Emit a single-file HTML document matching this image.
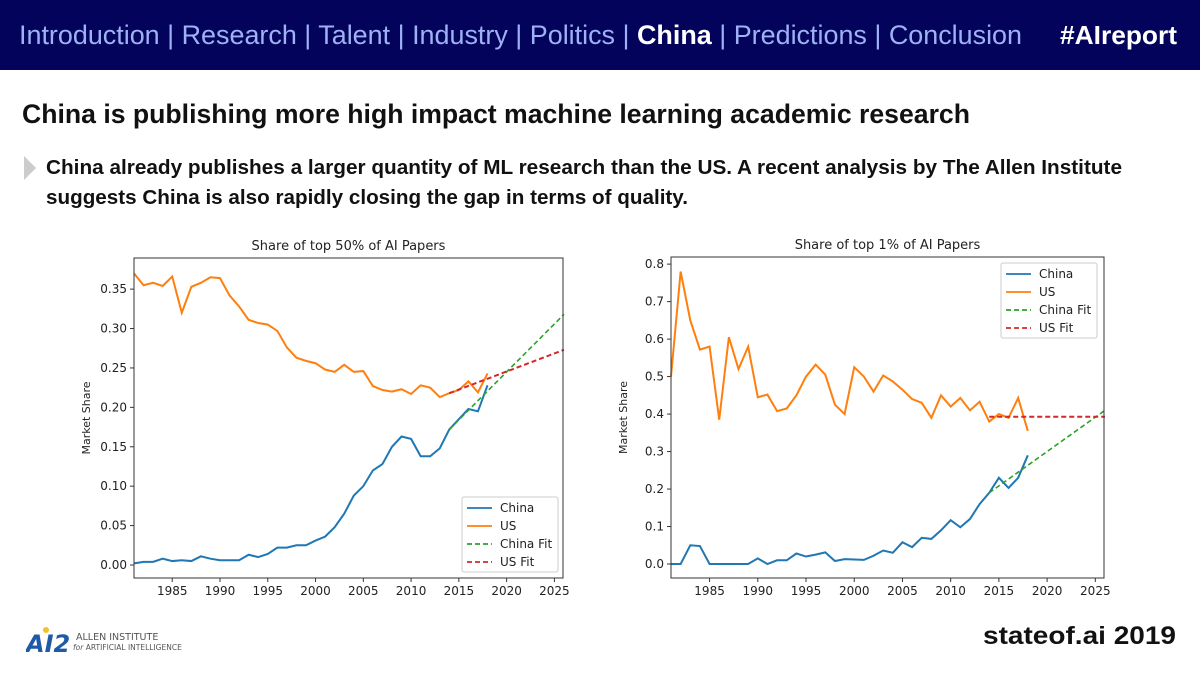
<!DOCTYPE html>
<html><head><meta charset="utf-8"><style>
*{margin:0;padding:0;box-sizing:border-box}
body{width:1200px;height:675px;overflow:hidden;background:#fff;font-family:"Liberation Sans",sans-serif;position:relative}
#hdr{position:absolute;left:0;top:0;width:1200px;height:70px;background:#03035c}
.fit{position:absolute;white-space:nowrap;transform-origin:0 0}
#nav{left:19px;top:20px;font-size:27px;color:#9fb1f5}
#nav b{color:#fff;font-weight:bold}
#tag{left:1060px;top:20px;font-size:26px;color:#fff;font-weight:bold}
#title{left:22px;top:99px;font-size:27px;font-weight:bold;color:#111}
.sub{left:46px;font-size:20px;font-weight:bold;color:#111}
#tri{position:absolute;left:24px;top:156px;width:0;height:0;border-top:12px solid transparent;border-bottom:12px solid transparent;border-left:12px solid #ccc}
#foot{left:983px;top:622px;font-size:25px;font-weight:bold;color:#111}
#logo{position:absolute;left:26px;top:626px;width:180px;height:30px}
svg text{font-family:"DejaVu Sans","Liberation Sans",sans-serif}
</style></head><body>
<div id="hdr">
<div id="nav" class="fit" data-w="1003"><span>Introduction</span> | <span>Research</span> | <span>Talent</span> | <span>Industry</span> | <span>Politics</span> | <b>China</b> | <span>Predictions</span> | <span>Conclusion</span></div>
<div id="tag" class="fit" data-w="117">#AIreport</div>
</div>
<div id="title" class="fit" data-w="948">China is publishing more high impact machine learning academic research</div>
<div id="tri"></div>
<div class="fit sub" style="top:157px" data-w="1076">China already publishes a larger quantity of ML research than the US. A recent analysis by The Allen Institute</div>
<div class="fit sub" style="top:187px" data-w="642">suggests China is also rapidly closing the gap in terms of quality.</div>
<svg id="logo" viewBox="0 0 180 30">
<text x="0" y="26" font-size="24" font-weight="bold" fill="#1f5aa6" font-style="italic">AI2</text>
<circle cx="20" cy="4" r="3" fill="#f2c12e"/>
<text x="50" y="14" font-size="9.5" fill="#555">ALLEN INSTITUTE</text>
<text x="47" y="24" font-size="7.5" fill="#555"><tspan font-style="italic">for</tspan> ARTIFICIAL INTELLIGENCE</text>
</svg>
<div id="foot" class="fit" data-w="193">stateof.ai 2019</div>
<svg id="charts" width="1200" height="675" style="position:absolute;left:0;top:0"></svg>
<script>
document.querySelectorAll('.fit').forEach(el=>{const w=el.getBoundingClientRect().width;const t=+el.getAttribute('data-w');if(w>0)el.style.transform='scaleX('+(t/w)+')';});

const years=[1981,1982,1983,1984,1985,1986,1987,1988,1989,1990,1991,1992,1993,1994,1995,1996,1997,1998,1999,2000,2001,2002,2003,2004,2005,2006,2007,2008,2009,2010,2011,2012,2013,2014,2015,2016,2017,2018];
const xTicks=[1985,1990,1995,2000,2005,2010,2015,2020,2025];
const chinaTop50=[.002,.004,.004,.008,.005,.006,.005,.011,.008,.006,.006,.006,.013,.010,.014,.022,.022,.025,.025,.031,.036,.048,.065,.088,.100,.120,.128,.150,.163,.160,.138,.138,.148,.172,.185,.198,.195,.228];
const usTop50=[.37,.355,.358,.354,.366,.32,.353,.358,.365,.364,.342,.328,.311,.307,.305,.297,.276,.263,.259,.256,.248,.245,.254,.245,.246,.227,.222,.220,.223,.217,.228,.225,.213,.218,.222,.233,.219,.243];
const fitYears=[2014,2026];
const chinaFit50=[.172,.318];
const usFit50=[.218,.273];
const yTicks50=[0,.05,.10,.15,.20,.25,.30,.35];
const yLabels50=["0.00","0.05","0.10","0.15","0.20","0.25","0.30","0.35"];
const chinaTop1=[0,0,.05,.048,0,0,0,0,0,.015,0,.01,.01,.028,.02,.025,.031,.008,.013,.012,.011,.022,.036,.030,.058,.045,.070,.067,.09,.117,.098,.12,.16,.19,.23,.203,.23,.29];
const usTop1=[.5,.78,.65,.572,.58,.385,.605,.52,.58,.445,.452,.408,.415,.45,.5,.532,.505,.425,.4,.525,.5,.46,.503,.487,.465,.44,.43,.39,.45,.42,.443,.41,.433,.38,.4,.39,.443,.355];
const chinaFit1=[.19,.41];
const usFit1=[.393,.393];
const yTicks1=[0,.1,.2,.3,.4,.5,.6,.7,.8];
const yLabels1=["0.0","0.1","0.2","0.3","0.4","0.5","0.6","0.7","0.8"];

const NS="http://www.w3.org/2000/svg";
const root=document.getElementById('charts');
function mk(tag,attrs,parent){const e=document.createElementNS(NS,tag);for(const k in attrs)e.setAttribute(k,attrs[k]);parent.appendChild(e);return e;}
function chart(cfg){
  const g=mk('g',{},root);
  
  
  const X=v=>cfg.x0+(v-cfg.xmin)*(cfg.x1-cfg.x0)/(cfg.xmax-cfg.xmin);
  const Y=v=>cfg.y0-(v-cfg.ymin)*(cfg.y0-cfg.y1)/(cfg.ymax-cfg.ymin);
  const t=mk('text',{x:(cfg.x0+cfg.x1)/2,y:cfg.y1-8,'font-size':13,'text-anchor':'middle',fill:'#222'},g);t.textContent=cfg.title;
  
  
  const yl=mk('text',{transform:`translate(${cfg.x0-44},${(cfg.y0+cfg.y1)/2}) rotate(-90)`,'font-size':11,'text-anchor':'middle',fill:'#222'},g);yl.textContent='Market Share';
  
  
  cfg.yt.forEach((v,i)=>{const y=Y(v);mk('line',{x1:cfg.x0-4,x2:cfg.x0,y1:y,y2:y,stroke:'#333'},g);
    const tx=mk('text',{x:cfg.x0-7,y:y+4,'font-size':12,'text-anchor':'end',fill:'#222'},g);tx.textContent=cfg.yl[i];
    
    });
  xTicks.forEach(v=>{const x=X(v);mk('line',{x1:x,x2:x,y1:cfg.y0,y2:cfg.y0+4,stroke:'#333'},g);
    const tx=mk('text',{x:x,y:cfg.y0+17,'font-size':12,'text-anchor':'middle',fill:'#222'},g);tx.textContent=v;
    
    });
  const line=(xs,ys,col,w,dash,name)=>{const p=mk('polyline',{points:xs.map((x,i)=>X(x)+','+Y(ys[i])).join(' '),fill:'none',stroke:col,'stroke-width':w,'stroke-dasharray':dash||'none'},g);
    
    };
  line(years,cfg.us,'#ff7f0e',2,null,'us-line');
  line(years,cfg.ch,'#1f77b4',2,null,'china-line');
  line(fitYears,cfg.chf,'#2ca02c',1.6,'5,3','china-fit-line');
  line(fitYears,cfg.usf,'#d62728',2,'5,3','us-fit-line');
  mk('rect',{x:cfg.x0,y:cfg.y1,width:cfg.x1-cfg.x0,height:cfg.y0-cfg.y1,fill:'none',stroke:'#333','stroke-width':1},g);
  const L=cfg.leg;
  const lg=mk('g',{},g);
  
  
  mk('rect',{x:L[0],y:L[1],width:96,height:75,fill:'#fff',stroke:'#ccc',rx:2},lg);
  [['China','#1f77b4',null],['US','#ff7f0e',null],['China Fit','#2ca02c','5,3'],['US Fit','#d62728','5,3']].forEach((e,i)=>{
    const y=L[1]+11+i*18;
    mk('line',{x1:L[0]+5,x2:L[0]+30,y1:y,y2:y,stroke:e[1],'stroke-width':1.8,'stroke-dasharray':e[2]||'none'},lg);
    const tx=mk('text',{x:L[0]+38,y:y+4,'font-size':12,fill:'#222'},lg);tx.textContent=e[0];
    
    });
}
chart({name:'chart-top-50',title:'Share of top 50% of AI Papers',x0:134,x1:563,y0:578,y1:258,xmin:1981,xmax:2025.9,ymin:-.0165,ymax:.3895,
  yt:yTicks50,yl:yLabels50,ch:chinaTop50,us:usTop50,chf:chinaFit50,usf:usFit50,leg:[462,497]});
chart({name:'chart-top-1',title:'Share of top 1% of AI Papers',x0:671,x1:1104,y0:578,y1:257,xmin:1981,xmax:2025.9,ymin:-.0373,ymax:.819,
  yt:yTicks1,yl:yLabels1,ch:chinaTop1,us:usTop1,chf:chinaFit1,usf:usFit1,leg:[1001,263]});
</script>
</body></html>
